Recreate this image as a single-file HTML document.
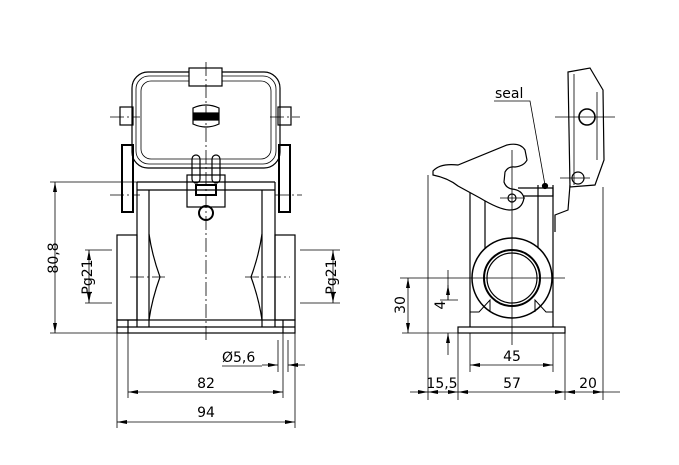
<!DOCTYPE html>
<html><head><meta charset="utf-8"><style>
html,body{margin:0;padding:0;background:#fff}
svg{display:block}
text{font-family:"DejaVu Sans","Liberation Sans",sans-serif;font-size:14px;fill:#000}
</style></head><body>
<svg width="679" height="465" viewBox="0 0 679 465" xmlns="http://www.w3.org/2000/svg">
<defs>
<marker id="a" viewBox="0 0 10 6" refX="10" refY="3" markerWidth="10" markerHeight="6" orient="auto-start-reverse" markerUnits="userSpaceOnUse"><path d="M0,1 L10,3 L0,5 Z" fill="#000"/></marker>
</defs>
<g fill="none" stroke="#000" stroke-width="1.2">
<!-- FRONT VIEW -->
<!-- lid -->
<rect x="132" y="72" width="148" height="96" rx="16"/>
<rect x="136" y="76" width="140" height="88" rx="13" stroke-width="0.8"/>
<rect x="141" y="81" width="130" height="78" rx="10" stroke-width="0.8"/>
<rect x="189" y="68" width="33" height="18" fill="#fff"/>
<path d="M193,108 q13,-6 26,0 v16 q-13,6 -26,0 z"/>
<rect x="194" y="113" width="24" height="7" fill="#000"/>
<rect x="120" y="107" width="13" height="18"/>
<rect x="278" y="107" width="13" height="18"/>
<rect x="122" y="145" width="11" height="67" stroke-width="2"/>
<rect x="279" y="145" width="11" height="67" stroke-width="2"/>
<!-- body -->
<path d="M137,182 H275 M137,190 H275"/>
<path d="M137,182 V327 M275,182 V327 M149,190 V327 M262,190 V327"/>
<path d="M149,234 Q152,255 160,277 Q152,299 149,320 M262,234 Q259,255 251,277 Q259,299 262,320"/>
<rect x="117" y="235" width="20" height="85"/>
<rect x="275" y="235" width="20" height="85"/>
<rect x="117" y="320" width="178" height="13"/>
<path d="M117,327 H295 M128,320 V333 M283,320 V333"/>
<!-- latch -->
<rect x="187" y="175" width="38" height="32"/>
<rect x="192" y="155" width="8" height="28" rx="4"/>
<rect x="212" y="155" width="8" height="28" rx="4"/>
<rect x="196" y="185" width="20" height="10" stroke-width="2"/>
<circle cx="206" cy="213" r="7" stroke-width="2"/>
<!-- SIDE VIEW -->
<path d="M568,72 L590,68 L603,90 L604,160 L595,185 L570,187 Z" fill="#fff"/>
<path d="M574,74 V185 M597,92 V160" stroke-width="0.8"/>
<circle cx="587" cy="117" r="8" stroke-width="1.6"/>
<circle cx="578" cy="178" r="6"/>
<path d="M570,185 L568,210 L555,215 V232"/>
<path d="M470,180 V327 M553,185 V327 M485,180 V262 M538,185 V262"/>
<path d="M518,188 H553 V196 H520"/>
<circle cx="545" cy="186" r="2.5" fill="#000"/>
<path d="M433,171 Q440,163 458,165 L507,145 Q520,142 525,150 L527,160 Q524,166 515,167 Q508,166 505,172 L504,182 Q506,188 512,189 Q522,190 524,198 Q522,210 510,210 Q500,210 480,198 L458,186 Q448,178 433,175 Z" fill="#fff"/>
<circle cx="512" cy="198" r="4"/>
<circle cx="512" cy="278" r="40" fill="#fff" stroke-width="1.5"/>
<circle cx="512" cy="278" r="28" stroke-width="2"/>
<circle cx="512" cy="278" r="25"/>
<path d="M470,312 H479 L490,300 V312 M553,312 H546 L535,300 V312" stroke-width="1"/>
<rect x="458" y="327" width="107" height="6" fill="#fff"/>
</g>
<!-- thin lines: centerlines, extension, dims -->
<g fill="none" stroke="#000" stroke-width="0.8">
<path d="M206,62 V340 M110,117 H140 M270,117 H300 M110,195 H140 M275,195 H302 M130,277 H165 M245,277 H290" stroke-dasharray="14,3,2,3"/>
<path d="M512,150 V345 M400,278 H565 M500,198 H525 M555,117 H615 M560,178 H590"/>
<path d="M50,182 H137 M50,333 H117 M85,250 H112 M85,303 H112 M300,250 H340 M300,303 H340"/>
<path d="M55,182 V333" marker-start="url(#a)" marker-end="url(#a)"/>
<path d="M89,250 V303" marker-start="url(#a)" marker-end="url(#a)"/>
<path d="M333,250 V303" marker-start="url(#a)" marker-end="url(#a)"/>
<path d="M117,333 V428 M295,333 V428 M128,333 V398 M283,333 V398 M278,340 V372 M288,340 V372"/>
<path d="M128,392 H283" marker-start="url(#a)" marker-end="url(#a)"/>
<path d="M117,422 H295" marker-start="url(#a)" marker-end="url(#a)"/>
<path d="M262,365 H278" marker-end="url(#a)"/><path d="M305,365 H288" marker-end="url(#a)"/>
<path d="M222,366 H262"/>
<!-- side dims -->
<path d="M428,175 V400 M603,187 V400 M458,333 V400 M565,333 V400 M470,333 V372 M553,333 V372 M402,333 H458 M440,300 H458"/>
<path d="M408,278 V333" marker-start="url(#a)" marker-end="url(#a)"/>
<path d="M448,300 V285" marker-end="url(#a)"/><path d="M448,333 V355" marker-start="url(#a)"/>
<path d="M448,270 V300"/>
<path d="M470,365 H553" marker-start="url(#a)" marker-end="url(#a)"/>
<path d="M410,392 H428" marker-end="url(#a)"/><path d="M428,392 H458" marker-start="url(#a)" marker-end="url(#a)"/>
<path d="M458,392 H565" marker-start="url(#a)" marker-end="url(#a)"/><path d="M565,392 H603" marker-start="url(#a)" marker-end="url(#a)"/>
<path d="M603,392 H620"/>
<path d="M494,101 H530 L545,185"/>
</g>
<text x="62" y="258" transform="rotate(-90 62 258)" text-anchor="middle" dy="-4">80,8</text>
<text x="96" y="277" transform="rotate(-90 96 277)" text-anchor="middle" dy="-4">Pg21</text>
<text x="340" y="277" transform="rotate(-90 340 277)" text-anchor="middle" dy="-4">Pg21</text>
<text x="222" y="362">Ø5,6</text>
<text x="206" y="388" text-anchor="middle">82</text>
<text x="206" y="417" text-anchor="middle">94</text>
<text x="495" y="98">seal</text>
<text x="404" y="305" transform="rotate(-90 404 305)" text-anchor="middle" dy="1">30</text>
<text x="444" y="305" transform="rotate(-90 444 305)" text-anchor="middle" dy="1">4</text>
<text x="512" y="361" text-anchor="middle">45</text>
<text x="442" y="388" text-anchor="middle">15,5</text>
<text x="512" y="388" text-anchor="middle">57</text>
<text x="588" y="388" text-anchor="middle">20</text>
</svg>
</body></html>
